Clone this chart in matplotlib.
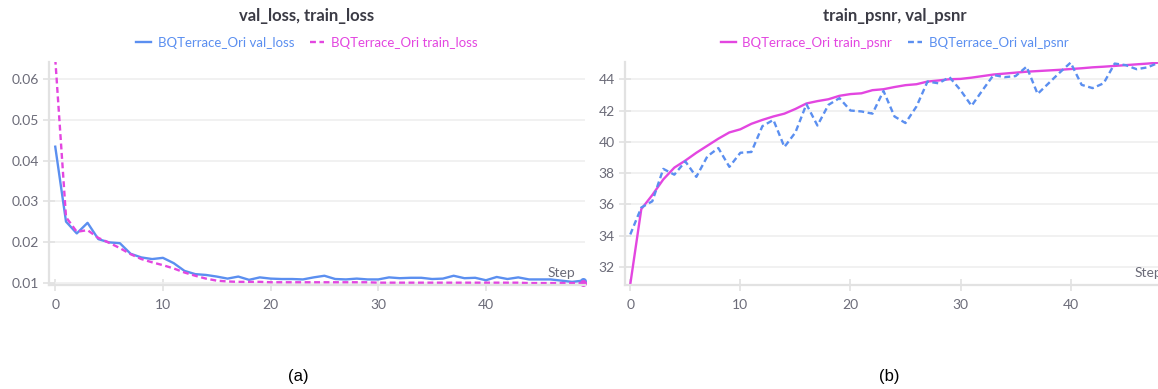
import numpy as np
import matplotlib.pyplot as plt

steps = np.arange(50)

val_loss = [0.0434, 0.0250, 0.0221, 0.0247, 0.0207, 0.0199, 0.0197, 0.0171, 0.0162, 0.0158,
            0.0161, 0.0148, 0.0129, 0.0121, 0.0119, 0.0115, 0.0110, 0.0115, 0.0107, 0.0113,
            0.0110, 0.0109, 0.0109, 0.0108, 0.0113, 0.0117, 0.0109, 0.0108, 0.0110, 0.0108,
            0.0108, 0.0113, 0.0111, 0.0112, 0.0112, 0.0109, 0.0110, 0.0117, 0.0111, 0.0112,
            0.0106, 0.0114, 0.0109, 0.0113, 0.0108, 0.0108, 0.0108, 0.0105, 0.0102, 0.0105]
train_loss = [0.0650, 0.0261, 0.0225, 0.0229, 0.0210, 0.0198, 0.0185, 0.0170, 0.0158, 0.0150,
              0.0143, 0.0135, 0.0125, 0.0117, 0.0110, 0.0105, 0.0103, 0.0102, 0.0102, 0.0102,
              0.0101, 0.0101, 0.0101, 0.0101, 0.0101, 0.0101, 0.0101, 0.0101, 0.0101, 0.0101,
              0.0100, 0.0100, 0.0100, 0.0100, 0.0100, 0.0100, 0.0100, 0.0100, 0.0100, 0.0100,
              0.0100, 0.0100, 0.0100, 0.0100, 0.0099, 0.0099, 0.0099, 0.0099, 0.0099, 0.0099]

train_psnr = [30.9, 35.7, 36.6, 37.6, 38.35, 38.8, 39.3, 39.75, 40.2, 40.6,
              40.8, 41.15, 41.4, 41.62, 41.8, 42.1, 42.45, 42.6, 42.72, 42.94,
              43.05, 43.1, 43.3, 43.36, 43.5, 43.62, 43.68, 43.85, 43.92, 44.0,
              44.02, 44.1, 44.2, 44.3, 44.36, 44.42, 44.48, 44.52, 44.56, 44.6,
              44.65, 44.7, 44.76, 44.8, 44.85, 44.9, 44.95, 45.0, 45.06, 45.1]
val_psnr = [34.08, 35.8, 36.2, 38.27, 37.9, 38.75, 37.76, 39.07, 39.6, 38.4,
            39.3, 39.35, 41.0, 41.4, 39.67, 40.6, 42.4, 41.04, 42.36, 42.79,
            42.0, 41.94, 41.8, 43.25, 41.62, 41.2, 42.26, 43.85, 43.74, 44.13,
            43.3, 42.3, 43.3, 44.27, 44.13, 44.2, 44.8, 43.06, 43.74, 44.42,
            45.06, 43.64, 43.43, 43.74, 45.0, 44.9, 44.64, 44.76, 45.06, 45.2]

blue = '#5b8ff0'
pink = '#e346e0'
grid = '#efefef'
axc = '#e2e2e2'
tickc = '#6b6b78'

plt.rcParams['font.family'] = ['Lato', 'DejaVu Sans']

fig = plt.figure(figsize=(11.58, 3.89), dpi=100)
W, H = 1158, 389


def style(ax):
    for s in ['top', 'right']:
        ax.spines[s].set_visible(False)
    for s in ['left', 'bottom']:
        ax.spines[s].set_color(axc)
        ax.spines[s].set_linewidth(1.6)
    ax.grid(axis='y', color=grid, lw=1.2)
    ax.set_axisbelow(True)
    ax.tick_params(colors=axc, labelcolor=tickc, labelsize=10,
                   direction='inout', length=8, width=1.2)
    ax.tick_params(axis='x', pad=6)
    # the right panel's label is cut by the screenshot edge, as in the source
    ax.text(0.93, 0.055, 'Step', transform=ax.transAxes, ha='left', va='center',
            color=tickc, fontsize=10)


# (a) losses
ax1 = fig.add_axes([49 / W, 1 - 285 / H, 536 / W, 223 / H])
ax1.plot(steps, val_loss, color=blue, lw=1.7, label='BQTerrace_Ori val_loss')
ax1.plot(steps, train_loss, color=pink, lw=1.7, ls=(0, (2.5, 1.5)),
         label='BQTerrace_Ori train_loss')
ax1.set_xlim(-0.58, 49.2)
ax1.set_ylim(0.00943, 0.0642)
ax1.set_xticks([0, 10, 20, 30, 40])
ax1.set_yticks([0.01, 0.02, 0.03, 0.04, 0.05, 0.06])
ax1.set_yticklabels(['0.01', '0.02', '0.03', '0.04', '0.05', '0.06'])
style(ax1)

# (b) psnr
ax2 = fig.add_axes([625 / W, 1 - 285 / H, 548 / W, 223 / H])
ax2.plot(steps, train_psnr, color=pink, lw=1.7, label='BQTerrace_Ori train_psnr')
ax2.plot(steps, val_psnr, color=blue, lw=1.7, ls=(0, (2.5, 1.5)),
         label='BQTerrace_Ori val_psnr')
ax2.set_xlim(-0.48, 49.3)
ax2.set_ylim(30.85, 45.1)
ax2.set_xticks([0, 10, 20, 30, 40])
ax2.set_yticks([32, 34, 36, 38, 40, 42, 44])
style(ax2)

for ax, cx, title in [(ax1, 307, 'val_loss, train_loss'), (ax2, 895, 'train_psnr, val_psnr')]:
    fig.text(cx / W, 1 - 16 / H, title, ha='center', va='center', fontsize=12,
             fontweight='bold', color='#3b3b45')
    h, l = ax.get_legend_handles_labels()
    fig.legend(h, l, loc='center', bbox_to_anchor=(cx / W, 1 - 43 / H), ncol=2,
               frameon=False, fontsize=9.5, handlelength=1.1, handletextpad=0.5,
               columnspacing=1.2, labelcolor='linecolor')

# end-of-run dots on the loss plot
ax1.plot(steps[-1:], val_loss[-1:], 'o', color=blue, ms=4, clip_on=False)
ax1.plot(steps[-1:], train_loss[-1:], 'o', color=pink, ms=4, clip_on=False)

fig.text(298 / W, 1 - 377 / H, '(a)', ha='center', va='center', fontsize=12,
         family=['Liberation Sans', 'DejaVu Sans'], color='black')
fig.text(889 / W, 1 - 377 / H, '(b)', ha='center', va='center', fontsize=12,
         family=['Liberation Sans', 'DejaVu Sans'], color='black')

fig.savefig('out.png', dpi=100)
